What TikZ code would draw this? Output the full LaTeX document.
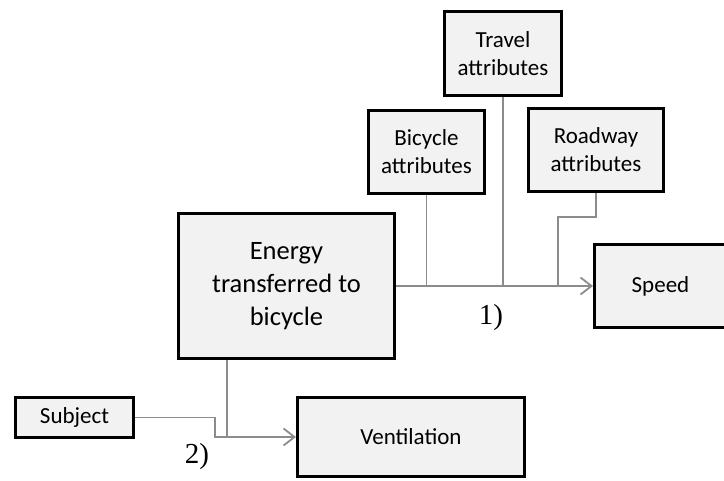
\documentclass[tikz,border=0pt]{standalone}
\usepackage{fontspec}
\setmainfont{Carlito}
\newfontfamily\labelfont{Liberation Serif}
\usetikzlibrary{arrows.meta}
\definecolor{boxfill}{HTML}{F2F2F2}
\definecolor{linkgray}{HTML}{8C8C8C}
\tikzstyle{factor}=[draw=black,line width=3pt,fill=boxfill,align=center,inner sep=0pt,font=\fontsize{23}{28}\selectfont]
\tikzstyle{link}=[draw=linkgray,line width=1.8pt]
\tikzstyle{linkarrow}=[link,-{Straight Barb[length=11pt,width=17pt,line width=1.8pt]}]
\tikzstyle{step label}=[font=\labelfont\fontsize{29}{32}\selectfont]
\begin{document}
\begin{tikzpicture}[x=1pt,y=-1pt]
    \useasboundingbox (0,0) rectangle (724,481);
    \clip (0,0) rectangle (724,481);
    % boxes
    \node[factor,minimum width=117,minimum height=84] (travel) at (503,53.5) {Travel\\attributes};
    \node[factor,minimum width=116,minimum height=83] (bicycle) at (426.5,152) {Bicycle\\attributes};
    \node[factor,minimum width=135,minimum height=83] (roadway) at (596,150) {Roadway\\attributes};
    \node[factor,minimum width=216,minimum height=145,font=\fontsize{26.5}{33}\selectfont] (energy) at (286.5,286) {Energy\\transferred to\\bicycle};
    \node[factor,minimum width=132,minimum height=83] (speed) at (660.5,286) {Speed};
    \node[factor,minimum width=118,minimum height=40] (subject) at (74.5,417.5) {Subject};
    \node[factor,minimum width=227,minimum height=79] (ventilation) at (411,437) {Ventilation};
    % path 1)
    \coordinate (roadjoin) at (558,286);
    \draw[linkarrow] (energy.east) -- (speed.west);
    \draw[link] (bicycle.south) -- (bicycle.south |- speed.west);
    \draw[link] (travel.south) -- (travel.south |- speed.west);
    \draw[link] (roadway.south) -- ++(0,24) -| (roadjoin);
    \node[step label] (one) at (491,318) {1)};
    % path 2)
    \coordinate (ventjoin) at (215,437);
    \draw[linkarrow] (subject.east) -| (ventjoin) -- (ventilation.west);
    \draw[link] ([xshift=50]energy.south west) -- ([xshift=50]energy.south west |- ventilation.west);
    \node[step label] (two) at (197,457) {2)};
\end{tikzpicture}
\end{document}
